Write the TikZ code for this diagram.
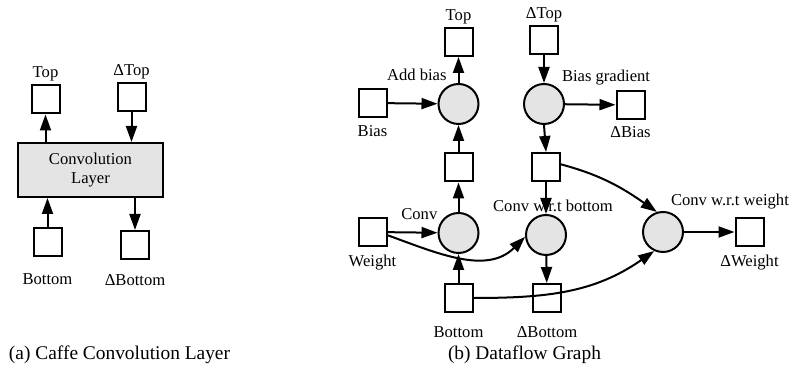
\documentclass[tikz,border=0pt]{standalone}
\usepackage{fontspec}
\setmainfont{Liberation Serif}
\usepackage{tikz}
\usetikzlibrary{arrows.meta}
\definecolor{mygray}{RGB}{228,228,228}

\begin{document}
\begin{tikzpicture}[x=1pt,y=1pt,line width=2pt,
	font=\fontsize{16.6}{19.5}\selectfont,
	flow/.style={-{Triangle[length=16pt,width=11pt]}},
	every label/.style={inner sep=2pt},
	databox/.style={draw,rectangle,minimum size=28pt,inner sep=0pt},
	opnode/.style={draw,circle,fill=mygray,minimum size=40pt,inner sep=0pt},
	layernode/.style={draw,rectangle,fill=mygray,minimum width=145pt,minimum height=54pt,align=center},
	captionnode/.style={anchor=base west,inner sep=0pt,font=\fontsize{19.4}{22}\selectfont},
	]
	\useasboundingbox (0,0) rectangle (793,379);
	
	% (a) the caffe layer
	\node[layernode] (layer) at (90.5,209) {Convolution\\Layer};
	\node[databox] (lt) at (45.5,279.5) [label=above:Top] {};
	\node[databox] (ldt) at (131.5,282) [label=above:ΔTop] {};
	\node[databox] (lb) at (47.5,137) [label={[label distance=14pt]below:Bottom}] {};
	\node[databox] (ldb) at (135,134) [label={[label distance=12pt]below:ΔBottom}] {};
	
	% (b) the data boxes
	\node[databox] (top) at (458.5,337) [label=above:Top] {};
	\node[databox] (dtop) at (544,339) [label=above:ΔTop] {};
	\node[databox] (bias) at (372.5,276) [label={[label distance=5pt]below:Bias}] {};
	\node[databox] (dbias) at (630.5,274) [label={[label distance=4pt]below:ΔBias}] {};
	\node[databox] (cout) at (458.5,211.5) {};
	\node[databox] (dtmid) at (546,212) {};
	\node[databox] (weight) at (372.5,147) [label={[label distance=5pt]below:Weight}] {};
	\node[databox] (dweight) at (749.5,147) [label={[label distance=5pt]below:ΔWeight}] {};
	\node[databox] (bottom) at (458.5,81) [label={[label distance=11pt]below:Bottom}] {};
	\node[databox] (dbottom) at (547,81) [label={[label distance=11pt]below:ΔBottom}] {};
	
	% (b) the operations
	\node[opnode] (addbias) at (458.5,275) [label={[anchor=base east,xshift=-9pt,yshift=2pt]north:Add bias}] {};
	\node[opnode] (biasgrad) at (544,275) [label={[anchor=base west,xshift=15pt,yshift=1pt]north:Bias gradient}] {};
	\node[opnode] (conv) at (458.5,146) [label={[anchor=base east,yshift=3pt]150:Conv}] {};
	\node[opnode] (cwb) at (546,144) [label={[anchor=base,xshift=7pt,yshift=2pt]north:Conv w.r.t bottom}] {};
	\node[opnode] (cww) at (663,147) [label={[anchor=base west,xshift=5pt,yshift=5pt]north:Conv w.r.t weight}] {};
	
	% the edges of (a)
	\draw[flow] (layer.north -| lt) -- (lt);
	\draw[flow] (ldt) -- (layer.north -| ldt);
	\draw[flow] (lb) -- (layer.south -| lb);
	\draw[flow] (layer.south -| ldb) -- (ldb);
	
	% the edges of (b)
	\draw[flow] (bias) -- (addbias);
	\draw[flow] (addbias) -- (top);
	\draw[flow] (cout) -- (addbias);
	\draw[flow] (conv) -- (cout);
	\draw[flow] (weight) -- (conv);
	\draw[flow] (bottom) -- (conv);
	\draw[flow] (dtop) -- (biasgrad);
	\draw[flow] (biasgrad) -- (dbias);
	\draw[flow] (biasgrad.south) -- (dtmid.north);
	\draw[flow] (dtmid) -- (cwb);
	\draw[flow] (cwb) -- (dbottom);
	\draw[flow] (weight.-12) to[out=-20,in=225] (cwb.185);
	\draw[flow] (bottom.east) to[out=0,in=215] (cww.245);
	\draw[flow] (dtmid.10) to[out=-15,in=145] (cww.107);
	\draw[flow] (cww) -- (dweight);
	
	% captions
	\node[captionnode] (capa) at (8,19) {(a) Caffe Convolution Layer};
	\node[captionnode] (capb) at (447,19) {(b) Dataflow Graph};
\end{tikzpicture}
\end{document}
